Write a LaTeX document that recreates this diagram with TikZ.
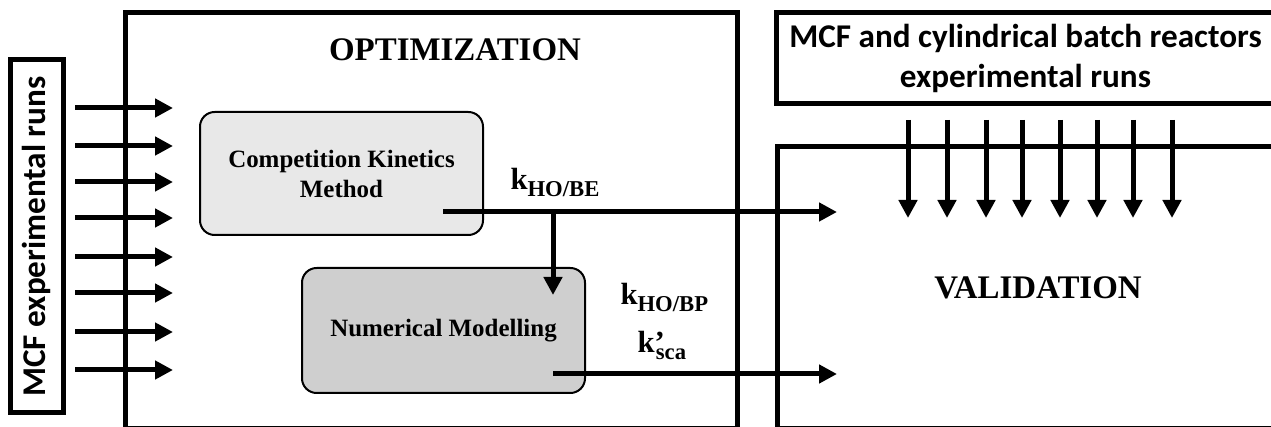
\documentclass[tikz,border=0pt]{standalone}
\usepackage{fontspec}
\setmainfont{Liberation Serif}
\newfontfamily\calibfont{Carlito}
\usetikzlibrary{arrows.meta}

\tikzset{every picture/.style={line width=0.75pt}}
\tikzset{
  frame/.style={draw, line width=3.75pt, inner sep=0pt},
  runbox/.style={frame, font=\calibfont\bfseries\fontsize{24.9}{30}\selectfont, align=center},
  method/.style={draw, line width=1.5pt, rounded corners=11pt, minimum width=212.25pt, inner sep=0pt,
    font=\bfseries\fontsize{18.7}{22.5}\selectfont, align=center},
  title/.style={font=\bfseries\fontsize{24.7}{28}\selectfont},
  klabel/.style={font=\bfseries\fontsize{23}{26}\selectfont, inner sep=0pt, anchor=base west},
  flow/.style={line width=3.75pt, -{Triangle[length=13.5pt,width=13.5pt]}}
}
\newcommand{\ksub}[1]{\raisebox{-5.25pt}{\fontsize{17}{17}\selectfont #1}}

\begin{document}
\begin{tikzpicture}[x=0.75pt,y=0.75pt,yscale=-1,xscale=1]
	\clip (0,0) rectangle (1271,427);

	% frames
	\node[frame, minimum width=459pt, minimum height=312pt] (opt) at (431,221) {};
	\node[frame, minimum width=384.75pt, minimum height=211.5pt] (val) at (1033.5,288) {};
	\node[runbox, minimum width=374.25pt, minimum height=68.25pt] (bat) at (1025.5,58.5) {MCF and cylindrical batch reactors\\experimental runs};
	\node[runbox, rotate=90, minimum width=264.75pt, minimum height=39.75pt] (mcf) at (36.5,236.5) {MCF experimental runs};

	% titles
	\node[title] (optT) at (455,50) {OPTIMIZATION};
	\node[title] (valT) at (1038,288) {VALIDATION};

	% methods
	\node[method, fill=black!9, minimum height=92.25pt] (ck) at (341.5,173.5) {Competition Kinetics\\Method};
	\node[method, fill=black!19, minimum height=93.75pt] (nm) at (443.5,330.5) {Numerical Modelling};

	% inputs
	\foreach \y in {108,146,182,218,257,293,332,370}
		\draw[flow] (75,\y) -- (173,\y);
	\foreach \x in {908,947,986,1022,1060,1097,1133,1172}
		\draw[flow] (\x,120) -- (\x,218);

	% rate constants
	\coordinate (kbe) at (443,212);
	\coordinate (split) at (553,212);
	\coordinate (kbp) at (553,374);
	\draw[flow] (kbe) -- (837,212);
	\draw[flow] (split) -- (553,295);
	\draw[flow] (kbp) -- (837,374);

	\node[klabel] (kbeL) at (510,190) {k\ksub{HO/BE}};
	\node[klabel] (kbpL) at (620,305) {k\ksub{HO/BP}};
	\node[klabel] (kscaL) at (637,353) {k\rlap{’}\kern1pt\ksub{sca}};

\end{tikzpicture}
\end{document}
